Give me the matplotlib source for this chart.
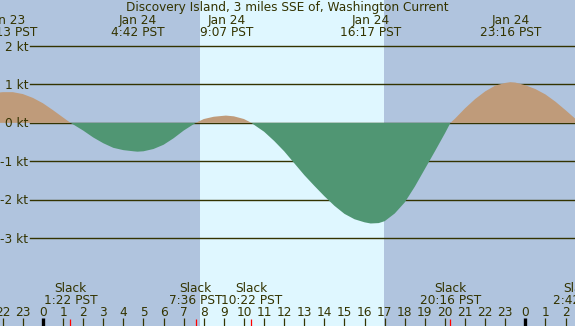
import matplotlib

matplotlib.use("Agg")

import matplotlib.pyplot as plt
import numpy as np

# current speed (hours from Jan 24 00:00 PST, knots)
hours = [-2.2, -2.0, -1.5, -1.0, -0.5, 0.0, 0.5, 1.0, 1.37, 1.5, 2.0, 2.5, 3.0,
         3.5, 4.0, 4.5, 4.7, 5.0, 5.5, 6.0, 6.5, 7.0, 7.6, 8.0, 8.5, 9.1, 9.5,
         10.0, 10.37, 10.5, 11.0, 11.5, 12.0, 12.5, 13.0, 13.5, 14.0, 14.5,
         15.0, 15.5, 16.0, 16.3, 16.7, 17.0, 17.5, 18.0, 18.5, 19.0, 19.5,
         20.0, 20.27, 20.5, 21.0, 21.5, 22.0, 22.5, 23.0, 23.25, 23.5, 24.0,
         24.5, 25.0, 25.5, 26.0, 26.5]
speed = [0.79, 0.80, 0.80, 0.75, 0.65, 0.51, 0.33, 0.14, 0.0, -0.04, -0.20,
         -0.38, -0.53, -0.65, -0.71, -0.74, -0.75, -0.74, -0.68, -0.57, -0.40,
         -0.20, 0.0, 0.10, 0.16, 0.19, 0.17, 0.10, 0.0, -0.05, -0.23, -0.47,
         -0.74, -1.05, -1.36, -1.64, -1.91, -2.16, -2.37, -2.51, -2.59, -2.62,
         -2.61, -2.56, -2.36, -2.07, -1.66, -1.20, -0.74, -0.27, 0.0, 0.11,
         0.38, 0.62, 0.82, 0.97, 1.04, 1.06, 1.05, 0.98, 0.88, 0.74, 0.55,
         0.33, 0.10]

max_dates = ["Jan 23", "Jan 24", "Jan 24", "Jan 24", "Jan 24"]
max_times = ["22:13", "4:42", "9:07", "16:17", "23:16"]
max_days = [-1, 0, 0, 0, 0]
slack_times = ["1:22", "7:36", "10:22", "20:16", "2:42"]
slack_days = [0, 0, 0, 0, 1]
kt_levels = [2, 1, 0, -1, -2, -3]
sunrise, sunset = 7.8, 16.97

title = "Discovery Island, 3 miles SSE of, Washington Current"

NIGHT = "#b0c4de"
DAY = "#dff7ff"
FLOOD = "#bf9b7a"
EBB = "#509673"
INK = "#333300"


def to_hours(t, day):
    h, m = t.split(":")
    return day * 24 + int(h) + int(m) / 60


fig = plt.figure(figsize=(5.75, 3.26), dpi=100)
ax = fig.add_axes([0, 0, 1, 1])
ax.set_xlim(-2.139, 26.468)
ax.set_ylim(-5.29, 3.20)
ax.axis("off")
fig.patch.set_facecolor(NIGHT)
ax.axvspan(sunrise, sunset, color=DAY, zorder=0, lw=0)

for lv in kt_levels:
    ax.axhline(lv, xmin=30 / 575, xmax=1, color=INK, lw=1.0, zorder=1)
    ax.text(-0.74, lv - 0.12, f"{lv} kt", ha="right", va="baseline",
            fontsize=8.7, color=INK)

x = np.array(hours)
y = np.array(speed)
ax.fill_between(x, y, 0, where=y >= 0, interpolate=True, color=FLOOD,
                lw=0, zorder=2)
ax.fill_between(x, y, 0, where=y <= 0, interpolate=True, color=EBB,
                lw=0, zorder=2)

tr = ax.get_xaxis_transform()
ax.text(0.5, 1 - 11 / 326, title, transform=ax.transAxes, ha="center",
        va="baseline", fontsize=8.7, color=INK)

for d, t, dd in zip(max_dates, max_times, max_days):
    h = to_hours(t, dd)
    ax.text(h, 1 - 24.3 / 326, d, transform=tr, ha="center", va="baseline",
            fontsize=8.7, color=INK)
    ax.text(h, 1 - 35.7 / 326, f"{t} PST", transform=tr, ha="center",
            va="baseline", fontsize=8.7, color=INK)

for t, dd in zip(slack_times, slack_days):
    h = to_hours(t, dd)
    ax.text(h, 1 - 291.7 / 326, "Slack", transform=tr, ha="center",
            va="baseline", fontsize=8.7, color=INK)
    ax.text(h, 1 - 304 / 326, f"{t} PST", transform=tr, ha="center",
            va="baseline", fontsize=8.7, color=INK)
    ax.vlines(h, 0, 7 / 326, transform=tr, color="red", lw=0.9, zorder=3)

for h in range(-2, 27):
    ax.text(h, 1 - 316 / 326, str(h % 24), transform=tr, ha="center",
            va="baseline", fontsize=8.7, color=INK)
    if h % 24 == 0:
        ax.vlines(h, 0, 8 / 326, transform=tr, color="black", lw=2.4,
                  zorder=3)
    else:
        ax.vlines(h, 0, 8 / 326, transform=tr, color=INK, lw=0.9, zorder=3)

fig.savefig("out.png", dpi=100, facecolor=NIGHT)
plt.close(fig)
